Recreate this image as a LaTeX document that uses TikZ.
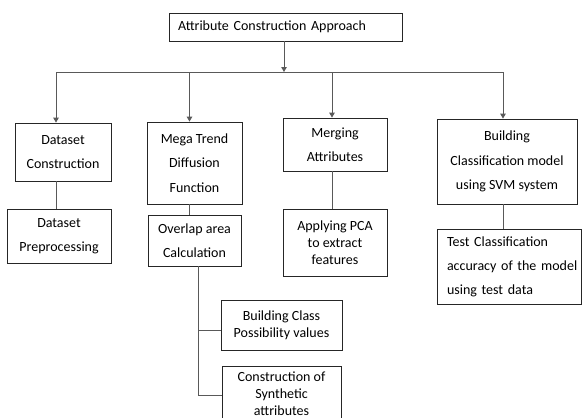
\documentclass[tikz,border=0pt]{standalone}
\usepackage{fontspec}
\setmainfont{Carlito}
\usetikzlibrary{arrows.meta}
\tikzset{
  box/.style={draw=black!85, line width=0.8pt, inner sep=0pt, align=center, fill=white},
  sp24/.style={font=\fontsize{14}{24.5}\selectfont},
  sp17/.style={font=\fontsize{14}{17}\selectfont},
  conn/.style={draw=black!65, line width=1pt},
  arr/.style={conn, -{Triangle[length=5pt,width=5.5pt]}}
}
\begin{document}
\begin{tikzpicture}[x=1pt,y=-1pt]
\useasboundingbox (0,0) rectangle (582,418);
\clip (0,0) rectangle (582,418);
\node[box, sp24, minimum width=233pt, minimum height=28pt, text width=215pt, align=left] (top) at (285.5,27) {Attribute Construction Approach};
\node[box, sp24, minimum width=96pt, minimum height=58pt] (ds) at (63,152) {Dataset\\Construction};
\node[box, sp24, minimum width=104pt, minimum height=54pt] (pre) at (59,236) {Dataset\\Preprocessing};
\node[box, sp24, minimum width=95pt, minimum height=82pt] (mega) at (194.5,163) {Mega Trend\\Diffusion\\Function};
\node[box, sp24, minimum width=93pt, minimum height=51pt] (ov) at (194.5,240.5) {Overlap area\\Calculation};
\node[box, sp24, minimum width=104pt, minimum height=53pt] (mg) at (335,144.5) {Merging\\Attributes};
\node[box, sp17, minimum width=104pt, minimum height=67pt] (pca) at (335,242.5) {Applying PCA\\to extract\\features};
\node[box, sp24, minimum width=140pt, minimum height=85pt] (bd) at (507,161.5) {Building\\Classification model\\using SVM system};
\node[box, font=\fontsize{14}{24}\selectfont, minimum width=144.5pt, minimum height=75pt, text width=124.5pt, inner xsep=10pt, align=left] (test) at (509.25,266.5) {\mbox{Test Classification}\\\mbox{accuracy of the model}\\\mbox{using test data}};
\node[box, sp17, minimum width=121pt, minimum height=50pt] (bc) at (281.5,325) {Building Class\\Possibility values};
\node[box, sp17, minimum width=119pt, minimum height=56pt] (cs) at (281.5,394) {Construction of\\Synthetic\\attributes};
\coordinate (j) at (284,72);
\coordinate (h1) at (56,72);
\coordinate (h2) at (189.5,72);
\coordinate (h3) at (332,72);
\coordinate (h4) at (503,72);
\coordinate (vx) at (198,0);
\draw[arr] (top.south -| j) -- (j);
\draw[conn] (h1) -- (h4);
\draw[arr] (h1) -- (h1 |- ds.north);
\draw[arr] (h2) -- (h2 |- mega.north);
\draw[arr] (h3) -- (h3 |- mg.north);
\draw[arr] (h4) -- (h4 |- bd.north);
\draw[conn] (ds.south -| h1) -- (pre.north -| h1);
\draw[conn] (mega.south -| h2) -- (ov.north -| h2);
\draw[conn] (mg.south -| h3) -- (pca.north -| h3);
\draw[conn] (bd.south -| h4) -- (test.north -| h4);
\draw[conn] (ov.south -| vx) |- ([yshift=-1pt]cs.west);
\draw[conn] ([yshift=-5pt]vx |- bc.west) -- ([yshift=-5pt]bc.west);
\end{tikzpicture}
\end{document}
